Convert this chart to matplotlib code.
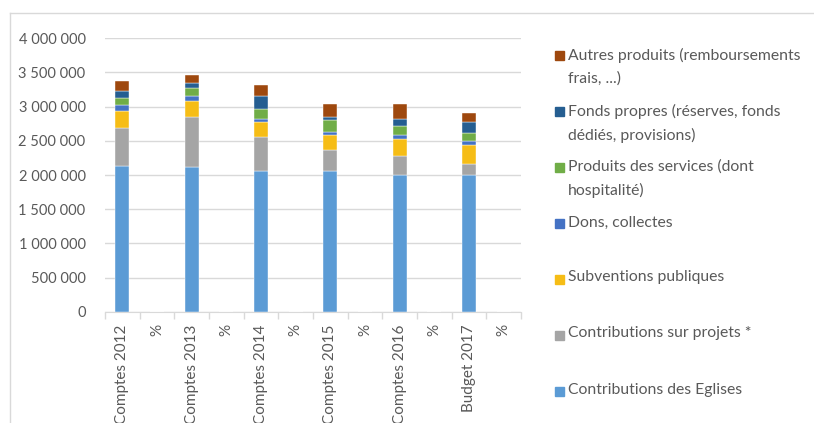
import numpy as np
import matplotlib.pyplot as plt
from matplotlib.patches import Rectangle
from matplotlib.lines import Line2D
from matplotlib.ticker import FuncFormatter

'''Categories (every year is followed by an empty "%" column)'''
categories = ["Comptes 2012", "%", "Comptes 2013", "%", "Comptes 2014", "%",
              "Comptes 2015", "%", "Comptes 2016", "%", "Budget 2017", "%"]

'''Series values, read from the picture (bars only on the year columns)'''
eglises = [2136000, 0, 2117000, 0, 2063000, 0, 2063000, 0, 2004000, 0, 2004000, 0]
projets = [556000, 0, 736000, 0, 488000, 0, 298000, 0, 278000, 0, 161000, 0]
subventions = [244000, 0, 225000, 0, 224000, 0, 220000, 0, 245000, 0, 278000, 0]
dons = [84000, 0, 73000, 0, 49000, 0, 53000, 0, 54000, 0, 54000, 0]
services = [107000, 0, 117000, 0, 137000, 0, 166000, 0, 140000, 0, 117000, 0]
fonds = [107000, 0, 73000, 0, 190000, 0, 53000, 0, 103000, 0, 157000, 0]
autres = [141000, 0, 117000, 0, 166000, 0, 190000, 0, 219000, 0, 136000, 0]

series = [
    ("Contributions des Eglises", eglises, "#5b9bd5"),
    ("Contributions sur projets *", projets, "#a5a5a5"),
    ("Subventions publiques", subventions, "#f6bd16"),
    ("Dons, collectes", dons, "#4472c4"),
    ("Produits des services (dont\nhospitalité)", services, "#70ad47"),
    ("Fonds propres (réserves, fonds\ndédiés, provisions)", fonds, "#255e91"),
    ("Autres produits (remboursements\nfrais, ...)", autres, "#9e480e"),
]

def main():
    plt.rcParams["font.family"] = ["Lato", "DejaVu Sans"]
    text_color = "#595959"

    fig = plt.figure(figsize=(8.14, 4.23), dpi=100)
    ax = fig.add_axes([105 / 814, 1 - 311.7 / 423, (521 - 105) / 814, (311.7 - 38.3) / 423])

    x = np.arange(len(categories))
    bottom = np.zeros(len(categories))
    for label, values, color in series:
        ax.bar(x, values, width=0.4, bottom=bottom, color=color, zorder=3,
               edgecolor="white", linewidth=0.3)
        bottom += np.array(values)

    ax.set_xlim(-0.5, len(categories) - 0.5)
    ax.set_ylim(0, 4000000)
    ax.set_yticks(np.arange(0, 4000001, 500000))
    ax.yaxis.set_major_formatter(FuncFormatter(lambda v, p: f"{int(v):,}".replace(",", " ")))
    ax.grid(axis="y", color="#d9d9d9", linewidth=1, zorder=0)

    ax.set_xticks(x)
    ax.set_xticklabels(categories, rotation=90, va="top", ha="center")
    ax.set_xticks(np.arange(-0.5, len(categories), 1), minor=True)
    ax.tick_params(axis="x", which="major", length=0, pad=9, labelsize=11, colors=text_color)
    ax.tick_params(axis="x", which="minor", length=5, color="#d9d9d9", width=1)
    ax.tick_params(axis="y", length=0, pad=14, labelsize=10.5, colors=text_color)

    for side in ["top", "right", "left"]:
        ax.spines[side].set_visible(False)
    ax.spines["bottom"].set_color("#d9d9d9")

    '''Legend drawn by hand, evenly spaced as in the original'''
    legend_y = [56, 112, 168, 224, 279, 335, 391]
    for (label, values, color), ly in zip(series[::-1], legend_y):
        fig.patches.append(Rectangle((555 / 814, 1 - (ly + 4.5) / 423), 9 / 814, 9 / 423,
                                     transform=fig.transFigure, color=color))
        fig.text(568 / 814, 1 - (ly - 8.5) / 423, label, fontsize=11.3, color=text_color,
                 va="top", ha="left", linespacing=1.75)

    '''Chart area frame (top and left edge)'''
    fig.lines.append(Line2D([10 / 814, 1], [1 - 13 / 423, 1 - 13 / 423],
                            transform=fig.transFigure, color="#d9d9d9", linewidth=1))
    fig.lines.append(Line2D([10 / 814, 10 / 814], [0, 1 - 13 / 423],
                            transform=fig.transFigure, color="#d9d9d9", linewidth=1))

    plt.savefig("out.png", dpi=100)
    plt.close()

if __name__ == "__main__":
    main()
